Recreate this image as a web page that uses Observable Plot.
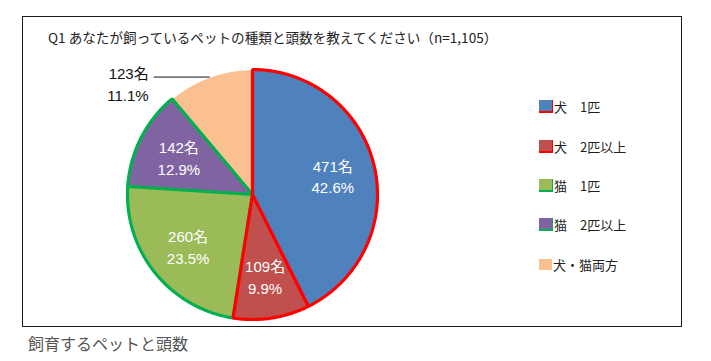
<!DOCTYPE html>
<html><head><meta charset="utf-8">
<script src="https://cdn.jsdelivr.net/npm/d3@7"></script>
<script src="https://cdn.jsdelivr.net/npm/@observablehq/plot@0.6"></script>
<style>
body{margin:0;background:#fff;font-family:"Noto Sans CJK JP",sans-serif;}
#frame{position:absolute;left:22px;top:16px;width:658px;height:309px;border:1.5px solid #1a1a1a;box-sizing:content-box;}
#title{position:absolute;left:25px;top:10px;font-size:13.6px;color:#222;white-space:nowrap;letter-spacing:0px;}
#chart{position:absolute;left:0;top:0;}
#legend{position:absolute;left:516px;top:70px;}
.item{display:flex;align-items:center;height:39.4px;font-size:13px;color:#222;}
.sw{width:13px;height:11px;box-sizing:content-box;margin-right:1px;}
#caption{position:absolute;left:28px;top:331px;font-size:16px;color:#555;white-space:nowrap;}
</style></head><body>
<div id="frame"><div id="title"></div><div id="chart"></div><div id="legend"></div></div>
<div id="caption"></div>
<script>
const titleText = "Q1 あなたが飼っているペットの種類と頭数を教えてください（n=1,105）";
const captionText = "飼育するペットと頭数";
const categories = ["犬　1匹", "犬　2匹以上", "猫　1匹", "猫　2匹以上", "犬・猫両方"];
const counts = [471, 109, 260, 142, 123];
const percents = ["42.6%", "9.9%", "23.5%", "12.9%", "11.1%"];
const fills = ["#4f81bd", "#c0504d", "#9bbb59", "#8064a2", "#fac090"];
const outlines = ["#ff0000", "#ff0000", "#00b050", "#00b050", "#ffffff"];
const outsideLabel = [false, false, false, false, true];

document.getElementById("title").textContent = titleText;
document.getElementById("caption").textContent = captionText;

const arcs = d3.pie().sort(null)(counts);
const slices = arcs.map((a, i) => {
  const pts = [{x: 0, y: 0}];
  const n = Math.max(8, Math.ceil((a.endAngle - a.startAngle) / 0.01));
  for (let k = 0; k <= n; k++) {
    const t = a.startAngle + (a.endAngle - a.startAngle) * k / n;
    pts.push({x: Math.sin(t), y: Math.cos(t)});
  }
  pts.push({x: 0, y: 0});
  return pts;
});
const R = 0.66;
const labels = arcs.map((a, i) => {
  const m = (a.startAngle + a.endAngle) / 2;
  const r = outsideLabel[i] ? 1.0 : R;
  return {i, x: r * Math.sin(m), y: r * Math.cos(m), text: counts[i] + "名\n" + percents[i], outside: outsideLabel[i]};
});
const inside = labels.filter(d => !d.outside);
const outside = labels.filter(d => d.outside);
const leaderLen = 56 / 125;
const labelFont = "Liberation Sans, Arial, Noto Sans CJK JP, sans-serif";

const drawOrder = [4, 3, 2, 1, 0];
const marks = drawOrder.map(i => Plot.line(slices[i], {
  x: "x", y: "y", fill: fills[i], stroke: outlines[i],
  strokeWidth: outlines[i] === "#ffffff" ? 1.5 : 3.2, strokeLinejoin: "miter", curve: "linear"
}));
marks.push(Plot.text(inside, {
  x: "x", y: "y", text: "text", fill: "white", fontSize: 15, lineHeight: 1.45,
  fontFamily: labelFont
}));
marks.push(Plot.link(outside, {
  x1: "x", y1: "y", x2: d => d.x - leaderLen, y2: "y", stroke: "#111", strokeWidth: 1
}));
marks.push(Plot.text(outside, {
  x: d => d.x - leaderLen, y: "y", text: "text", fill: "#111", fontSize: 15, lineHeight: 1.45,
  textAnchor: "end", dx: -5, dy: 6,
  fontFamily: labelFont
}));

const plot = Plot.plot({
  width: 658, height: 309,
  marginLeft: 104, marginRight: 304, marginTop: 52, marginBottom: 7,
  x: {domain: [-1, 1], axis: null},
  y: {domain: [-1, 1], axis: null},
  style: {background: "transparent", overflow: "visible"},
  marks
});
document.getElementById("chart").appendChild(plot);

const legend = document.getElementById("legend");
categories.forEach((c, i) => {
  const it = document.createElement("div");
  it.className = "item";
  const sw = document.createElement("span");
  sw.className = "sw";
  sw.style.background = fills[i];
  if (outlines[i] !== "#ffffff") {
    sw.style.borderBottom = "2px solid " + outlines[i];
    sw.style.borderRight = "1px solid " + outlines[i];
  }
  it.appendChild(sw);
  const tx = document.createElement("span");
  tx.textContent = c;
  it.appendChild(tx);
  legend.appendChild(it);
});
</script>
</body></html>
